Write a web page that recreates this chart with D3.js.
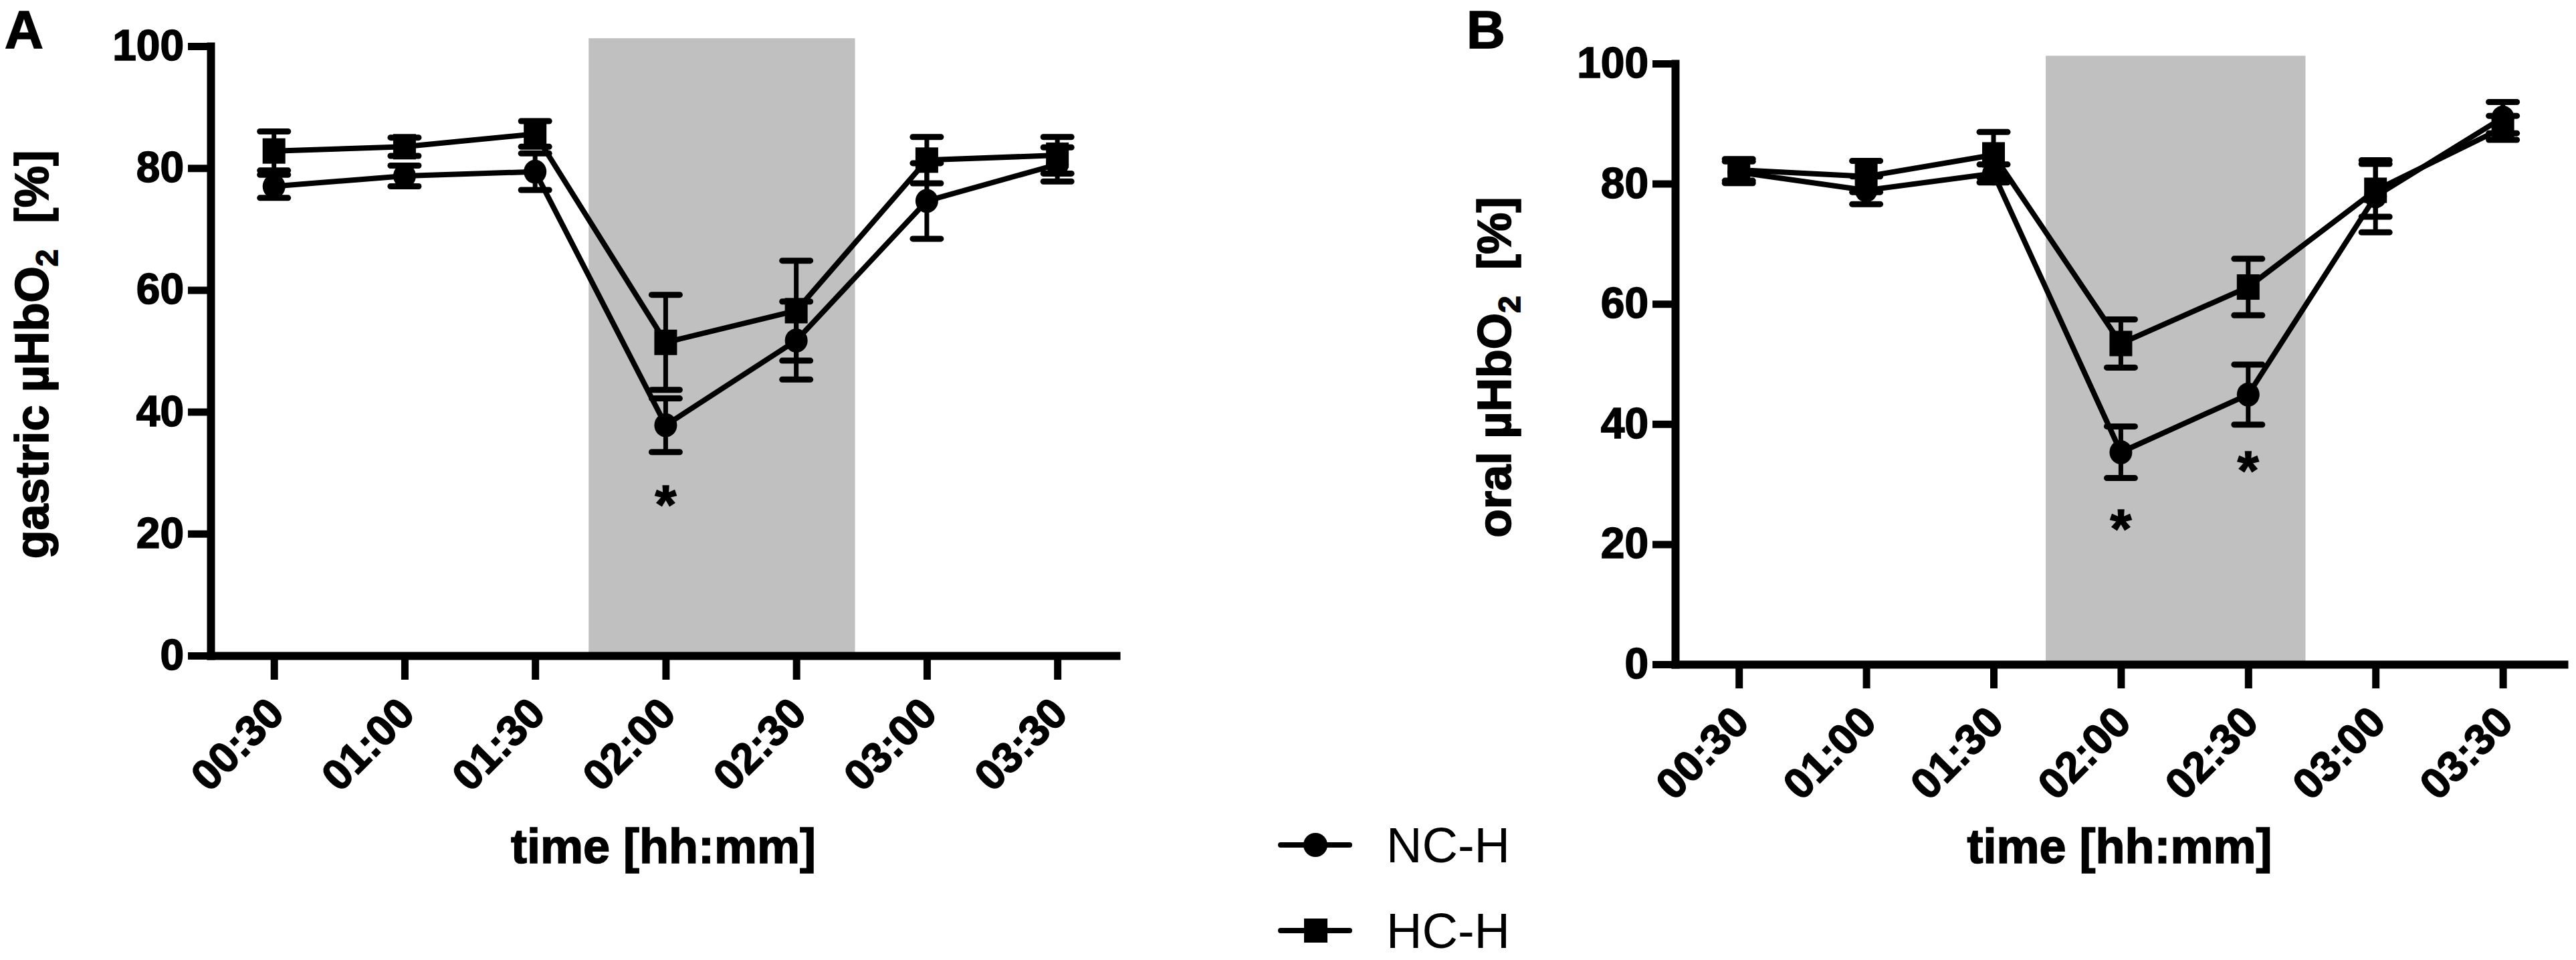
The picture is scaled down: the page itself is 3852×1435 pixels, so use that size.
<!DOCTYPE html>
<html>
<head>
<meta charset="utf-8">
<script src="https://cdn.jsdelivr.net/npm/d3@7/dist/d3.min.js"></script>
<style>
  body { margin: 0; background: #fff; }
  text { font-family: "Liberation Sans", Arial, sans-serif; fill: #000; }
</style>
</head>
<body>
<div id="chart"></div>
<script>
// Data (mean ± error, %)
const times = ['00:30', '01:00', '01:30', '02:00', '02:30', '03:00', '03:30'];
const seriesNames = ['NC-H', 'HC-H'];

const gastricNC    = [77.0, 78.7, 79.4, 37.8, 51.7, 74.6, 80.6];
const gastricNCErr = [1.9, 1.7, 3.0, 4.4, 6.4, 6.2, 2.8];
const gastricHC    = [82.8, 83.5, 85.6, 51.4, 56.6, 81.3, 82.1];
const gastricHCErr = [3.2, 1.5, 2.1, 7.8, 8.2, 3.8, 3.0];

const oralNC    = [81.9, 78.9, 81.7, 35.3, 44.9, 77.9, 91.0];
const oralNCErr = [1.8, 2.3, 1.5, 4.3, 5.0, 6.0, 2.6];
const oralHC    = [82.3, 81.2, 84.8, 53.4, 62.8, 78.9, 89.3];
const oralHCErr = [1.8, 2.6, 3.8, 4.0, 4.7, 4.4, 2.0];

// significance markers: time index and height of the asterisk
const gastricStars = [{ i: 3, v: 26.8 }];
const oralStars = [{ i: 3, v: 24.6 }, { i: 4, v: 34.3 }];

// shaded interval (in time-index units) and its top
const shadeFrom = 2.41, shadeTo = 4.45, shadeTop = 101.3;

const yTicks = [0, 20, 40, 60, 80, 100];

const svg = d3.select('#chart').append('svg')
  .attr('width', 3852)
  .attr('height', 1435);

// heavy bold text, a bit darker than plain bold
function heavy(sel, size) {
  return sel.attr('font-size', size)
    .attr('font-weight', 'bold')
    .attr('font-family', '"Liberation Sans", Arial, sans-serif')
    .attr('stroke', '#000')
    .attr('stroke-width', 1.6);
}

function drawPanel(p) {
  const x = d3.scaleLinear().domain(p.xDomain).range(p.xRange);
  const y = d3.scaleLinear().domain([0, 100]).range(p.yRange);
  const g = svg.append('g');

  // grey band
  g.append('rect')
    .attr('x', x(shadeFrom))
    .attr('y', y(shadeTop))
    .attr('width', x(shadeTo) - x(shadeFrom))
    .attr('height', y(0) - y(shadeTop))
    .attr('fill', '#c0c0c0');

  // y axis
  const yAx = g.append('g')
    .attr('transform', `translate(${x(p.xDomain[0])},0)`)
    .call(d3.axisLeft(y).tickValues(yTicks).tickSize(34).tickSizeOuter(0).tickPadding(6));
  // x axis
  const xAx = g.append('g')
    .attr('transform', `translate(0,${y(0)})`)
    .call(d3.axisBottom(x).tickValues(d3.range(times.length))
      .tickFormat(i => times[i]).tickSize(36).tickSizeOuter(0));

  [yAx, xAx].forEach(a => {
    a.select('.domain').attr('stroke-width', 12).attr('stroke-linecap', 'square');
    a.selectAll('.tick line').attr('stroke-width', 11);
    heavy(a.selectAll('text'), 64);
  });
  xAx.selectAll('text')
    .attr('text-anchor', 'end')
    .attr('dy', null)
    .attr('x', 18)
    .attr('y', 90)
    .attr('transform', 'rotate(-45, 18, 90)');

  // axis titles
  heavy(g.append('text'), 72)
    .attr('x', (p.xRange[0] + p.xRange[1]) / 2)
    .attr('y', 1290)
    .attr('text-anchor', 'middle')
    .text('time [hh:mm]');

  const yt = heavy(g.append('text'), 70)
    .attr('transform', `translate(${p.yTitleX},${p.yTitleY}) rotate(-90)`)
    .attr('text-anchor', 'middle')
    .style('white-space', 'pre');
  yt.append('tspan').text(p.yTitle + ' µHbO');
  yt.append('tspan').attr('font-size', 46).attr('dy', 14).text('2');
  yt.append('tspan').attr('dy', -14).text('  [%]');

  // panel letter
  heavy(g.append('text'), 80)
    .attr('x', p.letterX)
    .attr('y', 72)
    .text(p.letter);

  // series
  const line = d3.line().x((d, i) => x(i)).y(d => y(d));
  p.series.forEach(s => {
    g.append('path')
      .attr('d', line(s.values))
      .attr('fill', 'none')
      .attr('stroke', '#000')
      .attr('stroke-width', 8)
      .attr('stroke-linejoin', 'round');

    const eb = g.append('g').attr('stroke', '#000');
    s.values.forEach((v, i) => {
      const e = s.errors[i];
      eb.append('line')
        .attr('x1', x(i)).attr('x2', x(i))
        .attr('y1', y(v - e)).attr('y2', y(v + e))
        .attr('stroke-width', 7);
      [v - e, v + e].forEach(c => {
        eb.append('line')
          .attr('x1', x(i) - 21).attr('x2', x(i) + 21)
          .attr('y1', y(c)).attr('y2', y(c))
          .attr('stroke-width', 9)
          .attr('stroke-linecap', 'round');
      });
    });

    s.values.forEach((v, i) => {
      if (s.shape === 'circle') {
        g.append('ellipse')
          .attr('cx', x(i)).attr('cy', y(v))
          .attr('rx', 17).attr('ry', 18)
          .attr('fill', '#000');
      } else {
        g.append('rect')
          .attr('x', x(i) - 17).attr('y', y(v) - 19)
          .attr('width', 34).attr('height', 38)
          .attr('fill', '#000');
      }
    });
  });

  // asterisks
  p.stars.forEach(st => {
    heavy(g.append('text'), 82)
      .attr('x', x(st.i))
      .attr('y', y(st.v) + 46)
      .attr('text-anchor', 'middle')
      .text('*');
  });
}

drawPanel({
  letter: 'A', letterX: 7,
  xDomain: [-0.485, 6.45], xRange: [315, 1669],
  yRange: [980, 69],
  yTitle: 'gastric', yTitleX: 72, yTitleY: 530,
  series: [
    { name: seriesNames[0], values: gastricNC, errors: gastricNCErr, shape: 'circle' },
    { name: seriesNames[1], values: gastricHC, errors: gastricHCErr, shape: 'square' }
  ],
  stars: gastricStars
});

drawPanel({
  letter: 'B', letterX: 2193,
  xDomain: [-0.5, 6.48], xRange: [2505, 3834],
  yRange: [993, 95],
  yTitle: 'oral', yTitleX: 2259, yTitleY: 549,
  series: [
    { name: seriesNames[0], values: oralNC, errors: oralNCErr, shape: 'circle' },
    { name: seriesNames[1], values: oralHC, errors: oralHCErr, shape: 'square' }
  ],
  stars: oralStars
});

// legend
const legend = svg.append('g');
seriesNames.forEach((name, k) => {
  const ly = 1263 + k * 128;
  legend.append('line')
    .attr('x1', 1915).attr('x2', 2018)
    .attr('y1', ly).attr('y2', ly)
    .attr('stroke', '#000').attr('stroke-width', 8)
    .attr('stroke-linecap', 'round');
  if (k === 0) {
    legend.append('circle').attr('cx', 1967).attr('cy', ly).attr('r', 18).attr('fill', '#000');
  } else {
    legend.append('rect').attr('x', 1950).attr('y', ly - 18).attr('width', 35).attr('height', 36).attr('fill', '#000');
  }
  legend.append('text')
    .attr('x', 2073)
    .attr('y', ly + 26)
    .attr('font-size', 74)
    .text(name);
});
</script>
</body>
</html>
